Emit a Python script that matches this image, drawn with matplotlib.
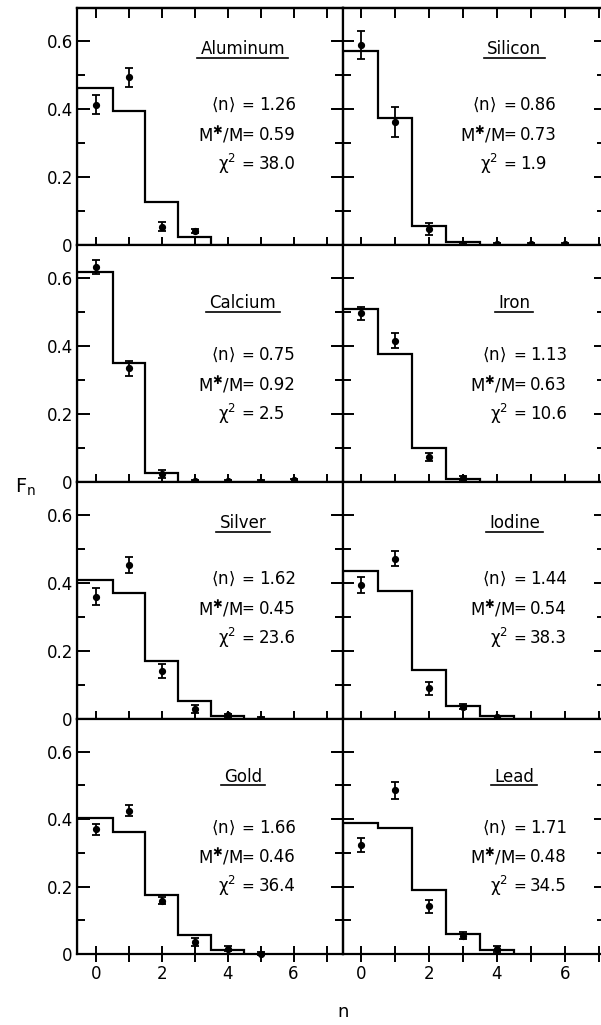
import numpy as np
import matplotlib.pyplot as plt

plt.rcParams['font.family'] = ['DejaVu Sans']

elements = ["Aluminum", "Silicon", "Calcium", "Iron", "Silver", "Iodine", "Gold", "Lead"]
mean_n = ["1.26", "0.86", "0.75", "1.13", "1.62", "1.44", "1.66", "1.71"]
mass_ratio = ["0.59", "0.73", "0.92", "0.63", "0.45", "0.54", "0.46", "0.48"]
chi_sq = ["38.0", "1.9", "2.5", "10.6", "23.6", "38.3", "36.4", "34.5"]

# calculated distribution (histogram), one list per element
fit_values = [
    [0.463, 0.394, 0.126, 0.024],
    [0.571, 0.373, 0.056, 0.010],
    [0.617, 0.349, 0.026],
    [0.509, 0.375, 0.099, 0.010],
    [0.409, 0.371, 0.170, 0.052, 0.009],
    [0.436, 0.375, 0.145, 0.037, 0.010],
    [0.403, 0.363, 0.176, 0.057, 0.011],
    [0.388, 0.375, 0.189, 0.060, 0.013],
]

# measured F_n and errors
measured = [
    [0.412, 0.493, 0.054, 0.041],
    [0.588, 0.363, 0.047, -0.002, 0.002, 0.002, 0.002],
    [0.633, 0.335, 0.024, 0.002, 0.002, 0.001, 0.005],
    [0.496, 0.415, 0.074, 0.012],
    [0.360, 0.453, 0.141, 0.030, 0.011, 0.001],
    [0.394, 0.471, 0.090, 0.036, 0.005],
    [0.370, 0.425, 0.158, 0.035, 0.016, 0.001],
    [0.324, 0.485, 0.141, 0.054, 0.015],
]
errors = [
    [0.028, 0.028, 0.013, 0.006],
    [0.040, 0.044, 0.018, 0.006, 0.005, 0.005, 0.004],
    [0.021, 0.022, 0.011, 0.005, 0.004, 0.004, 0.005],
    [0.020, 0.022, 0.011, 0.006],
    [0.025, 0.023, 0.020, 0.012, 0.005, 0.004],
    [0.023, 0.022, 0.018, 0.008, 0.005],
    [0.016, 0.016, 0.011, 0.011, 0.008, 0.004],
    [0.021, 0.026, 0.020, 0.010, 0.008],
]

W, H = 601, 1025
fig = plt.figure(figsize=(W / 100, H / 100), dpi=100)

col_x = [77, 343]
col_w = [266, 262]
col_xlim = [(-0.58, 7.5), (-0.53, 7.18)]
row_top = [8, 245, 482, 719]
row_bot = [245, 482, 719, 954]

title_y = [0.825, 0.755, 0.825, 0.755]
line_y = [[0.59, 0.466, 0.342], [0.536, 0.411, 0.289],
          [0.59, 0.466, 0.342], [0.536, 0.411, 0.289]]
title_x = [0.624, 0.654]
eq_x = [0.643, 0.673]

fs = 12
titles = []
for i, name in enumerate(elements):
    r, c = divmod(i, 2)
    ax = fig.add_axes([col_x[c] / W, 1 - row_bot[r] / H,
                       col_w[c] / W, (row_bot[r] - row_top[r]) / H])
    ax.set_xlim(*col_xlim[c])
    ax.set_ylim(0, 0.697)
    for s in ax.spines.values():
        s.set_linewidth(1.6)

    # histogram of the fit
    fv = fit_values[i]
    edges = np.arange(len(fv) + 1) - 0.5
    edges[0] = col_xlim[c][0]
    ax.stairs(fv, edges, baseline=0, color='k', lw=1.6, zorder=2)

    # measured points
    n = np.arange(len(measured[i]))
    cont = ax.errorbar(n, measured[i], yerr=errors[i], fmt='o', color='k',
                       ms=4.2, capsize=3.2, elinewidth=1.3, capthick=1.3, zorder=3)
    for art in [cont[0], *cont[1], *cont[2]]:
        art.set_clip_on(False)

    # ticks
    ax.set_xticks([0, 2, 4, 6])
    ax.set_xticks([1, 3, 5, 7], minor=True)
    ax.set_yticks([0, 0.2, 0.4, 0.6])
    ax.set_yticks([0.1, 0.3, 0.5], minor=True)
    ax.tick_params(axis='x', which='both', direction='inout', length=12, width=1.4,
                   top=False, bottom=True, labelsize=fs, pad=2,
                   labelbottom=(r == 3))
    if c == 0:
        ax.tick_params(axis='y', which='major', direction='in', length=9, width=1.4,
                       left=True, right=True, labelsize=fs, pad=3)
        ax.tick_params(axis='y', which='minor', direction='in', length=6, width=1.4,
                       left=True, right=True)
        ax.set_yticklabels(["0", "0.2", "0.4", "0.6"])
    else:
        ax.tick_params(axis='y', which='major', direction='inout', length=16, width=1.4,
                       left=True, right=True, labelleft=False)
        ax.tick_params(axis='y', which='minor', direction='inout', length=11, width=1.4,
                       left=True, right=True)
    if r == 0:
        sec = ax.secondary_xaxis('top')
        sec.set_xticks([0, 1, 2, 3, 4, 5, 6, 7])
        sec.tick_params(direction='in', length=7, width=1.4, labeltop=False)
        sec.spines['top'].set_linewidth(1.6)

    # annotations
    t = ax.text(title_x[c], title_y[r], name, transform=ax.transAxes,
                ha='center', va='center', fontsize=fs)
    titles.append((ax, t))
    ex = 0.635 if name == "Silicon" else eq_x[c]
    labels = [r"$\langle\mathregular{n}\rangle$", r"M$^✱$/M", r"χ$^2$"]
    gaps = [0.05, 0.018, 0.045]
    vals = [mean_n[i], mass_ratio[i], chi_sq[i]]
    for lab, gap, val, y in zip(labels, gaps, vals, line_y[r]):
        ax.text(ex - gap, y, lab, transform=ax.transAxes, ha='right', va='center', fontsize=fs)
        ax.text(ex, y, "=", transform=ax.transAxes, ha='center', va='center', fontsize=fs - 1)
        ax.text(ex + 0.04, y, val, transform=ax.transAxes, ha='left', va='center', fontsize=fs)

fig.text(25 / W, 1 - 487 / H, r"F$_\mathregular{n}$", ha='center', va='center', fontsize=14)
fig.text(343 / W, 1 - 1012 / H, "n", ha='center', va='center', fontsize=13)

# underline the element names
fig.canvas.draw()
for ax, t in titles:
    bb = t.get_window_extent().transformed(ax.transAxes.inverted())
    ax.plot([bb.x0 - 0.012, bb.x1 + 0.012], [bb.y0 + 0.002] * 2, color='k', lw=1.2,
            transform=ax.transAxes, clip_on=False)

fig.savefig("out.png", dpi=100)
